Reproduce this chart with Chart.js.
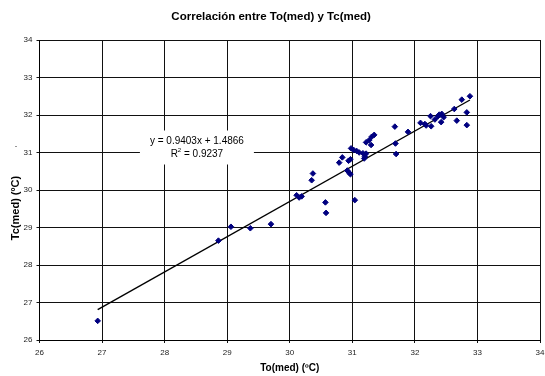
<!DOCTYPE html>
<html>
<head>
<meta charset="utf-8">
<script src="https://cdn.jsdelivr.net/npm/chart.js@4"></script>
<style>
  body { margin: 0; background: white; }
  #chart { display: block; }
</style>
</head>
<body>
<canvas id="chart" width="545" height="376"></canvas>
<script>
// data

var toMed = [26.93, 28.86, 29.06, 29.37, 29.70, 30.11, 30.15, 30.19, 30.35, 30.37,
             30.57, 30.58, 30.79, 30.84, 30.92, 30.95, 30.97, 30.94, 30.97, 30.98,
             31.02, 31.04, 31.07, 31.11, 31.17, 31.22, 31.19, 31.22, 31.27, 31.30,
             31.31, 31.35, 31.68, 31.69, 31.70, 31.89, 32.09, 32.16, 32.18, 32.25,
             32.26, 32.32, 32.37, 32.39, 32.43, 32.42, 32.46, 32.63, 32.67, 32.75,
             32.83, 32.83, 32.88, 31.20];
var tcMed = [26.51, 28.65, 29.02, 28.98, 29.09, 29.86, 29.80, 29.83, 30.26, 30.44,
             29.67, 29.39, 30.73, 30.87, 30.52, 30.46, 30.42, 30.78, 30.82, 31.11,
             31.07, 29.73, 31.04, 31.00, 30.98, 30.97, 30.84, 31.27, 31.33, 31.20,
             31.42, 31.47, 31.69, 31.24, 30.96, 31.55, 31.79, 31.76, 31.72, 31.97,
             31.70, 31.88, 31.97, 32.01, 32.03, 31.81, 31.94, 32.16, 31.85, 32.41,
             32.07, 31.73, 32.50, 30.89];

// linear trend line (y = 0.9403x + 1.4866), end points
var trendX = [26.93, 32.88];
var trendY = [26.81, 32.40];

var axisMin = 26;
var axisMax = 34;

var titleText = "Correlación entre To(med) y Tc(med)";
var xTitleText = "To(med) (ºC)";
var yTitleText = "Tc(med) (ºC)";
var eqLine1 = "y = 0.9403x + 1.4866";
var eqLine2 = "R";
var eqLine2b = " = 0.9237";

var fontName = "'Liberation Sans', Arial, sans-serif";

// build points

var scatterPoints = [];
for (var i = 0; i < toMed.length; i++) {
    scatterPoints.push({ x: toMed[i], y: tcMed[i] });
}
var trendPoints = [];
for (var j = 0; j < trendX.length; j++) {
    trendPoints.push({ x: trendX[j], y: trendY[j] });
}

// extra drawing: y title, equation box

var extrasPlugin = {
    id: 'extras',
    afterDraw: function(chart) {
        var ctx = chart.ctx;
        var xs = chart.scales.x;
        var ys = chart.scales.y;
        ctx.save();

        // y axis title (sits a bit low, like the original)
        ctx.fillStyle = '#000';
        ctx.font = 'bold 11px ' + fontName;
        ctx.textAlign = 'center';
        ctx.textBaseline = 'middle';
        ctx.save();
        ctx.translate(15.5, 208);
        ctx.rotate(-Math.PI / 2);
        ctx.fillText(yTitleText, 0, 0);
        ctx.restore();
        ctx.font = '9px ' + fontName;
        ctx.fillText('.', 16, 145);

        // equation label with white box
        var cx = xs.getPixelForValue(28.5);
        var cy = ys.getPixelForValue(31.0);
        ctx.fillStyle = '#fff';
        ctx.fillRect(cx - 56, cy - 22, 114, 34);
        ctx.fillStyle = '#000';
        ctx.font = '10px ' + fontName;
        ctx.fillText(eqLine1, cx + 1, cy - 11.5);
        var w1 = ctx.measureText(eqLine2).width;
        var w2 = ctx.measureText(eqLine2b).width;
        ctx.font = '6px ' + fontName;
        var ws = ctx.measureText('2').width;
        var start = cx + 1 - (w1 + ws + w2) / 2;
        ctx.textAlign = 'left';
        ctx.font = '10px ' + fontName;
        ctx.fillText(eqLine2, start, cy + 1.5);
        ctx.fillText(eqLine2b, start + w1 + ws, cy + 1.5);
        ctx.font = '6px ' + fontName;
        ctx.fillText('2', start + w1, cy - 2);

        ctx.restore();
    }
};

var ctx = document.getElementById('chart').getContext('2d');
var myChart = new Chart(ctx, {
    type: 'scatter',
    data: {
        datasets: [{
            label: 'datos',
            data: scatterPoints,
            pointStyle: 'rectRot',
            pointRadius: 2.8,
            pointBorderWidth: 1,
            backgroundColor: '#000080',
            borderColor: '#000080',
            order: 1
        }, {
            label: 'tendencia',
            type: 'line',
            data: trendPoints,
            borderColor: '#000',
            borderWidth: 1.4,
            pointRadius: 0,
            fill: false,
            order: 2
        }]
    },
    options: {
        responsive: false,
        animation: false,
        layout: { padding: { left: 0, right: 2.7, top: 0, bottom: 0 } },
        plugins: {
            legend: { display: false },
            tooltip: { enabled: false },
            title: {
                display: true,
                text: titleText,
                color: '#000',
                font: { family: fontName, size: 11.5, weight: 'bold' },
                padding: { top: 10, bottom: 16.2 }
            }
        },
        scales: {
            x: {
                type: 'linear',
                min: axisMin,
                max: axisMax,
                ticks: {
                    stepSize: 1,
                    color: '#222',
                    font: { family: fontName, size: 8 },
                    padding: 5,
                    maxRotation: 0,
                    autoSkip: false
                },
                grid: { color: '#111', lineWidth: 1, tickLength: 3, tickColor: '#111' },
                border: { display: true, color: '#000', width: 1 },
                title: {
                    display: true,
                    text: xTitleText,
                    color: '#000',
                    font: { family: fontName, size: 10, weight: 'bold' },
                    padding: { top: 0, bottom: 1.3 }
                },
                afterFit: function(scale) {
                    scale.height = 36;
                    scale.paddingLeft = 0;
                    scale.paddingRight = 0;
                }
            },
            y: {
                type: 'linear',
                min: axisMin,
                max: axisMax,
                ticks: {
                    stepSize: 1,
                    color: '#222',
                    font: { family: fontName, size: 8 },
                    padding: 4
                },
                grid: { color: '#111', lineWidth: 1, tickLength: 3, tickColor: '#111' },
                border: { display: true, color: '#000', width: 1 },
                afterFit: function(scale) {
                    scale.width = 39.5;
                    scale.paddingTop = 0;
                    scale.paddingBottom = 0;
                }
            }
        }
    },
    plugins: [extrasPlugin]
});
</script>
</body>
</html>
